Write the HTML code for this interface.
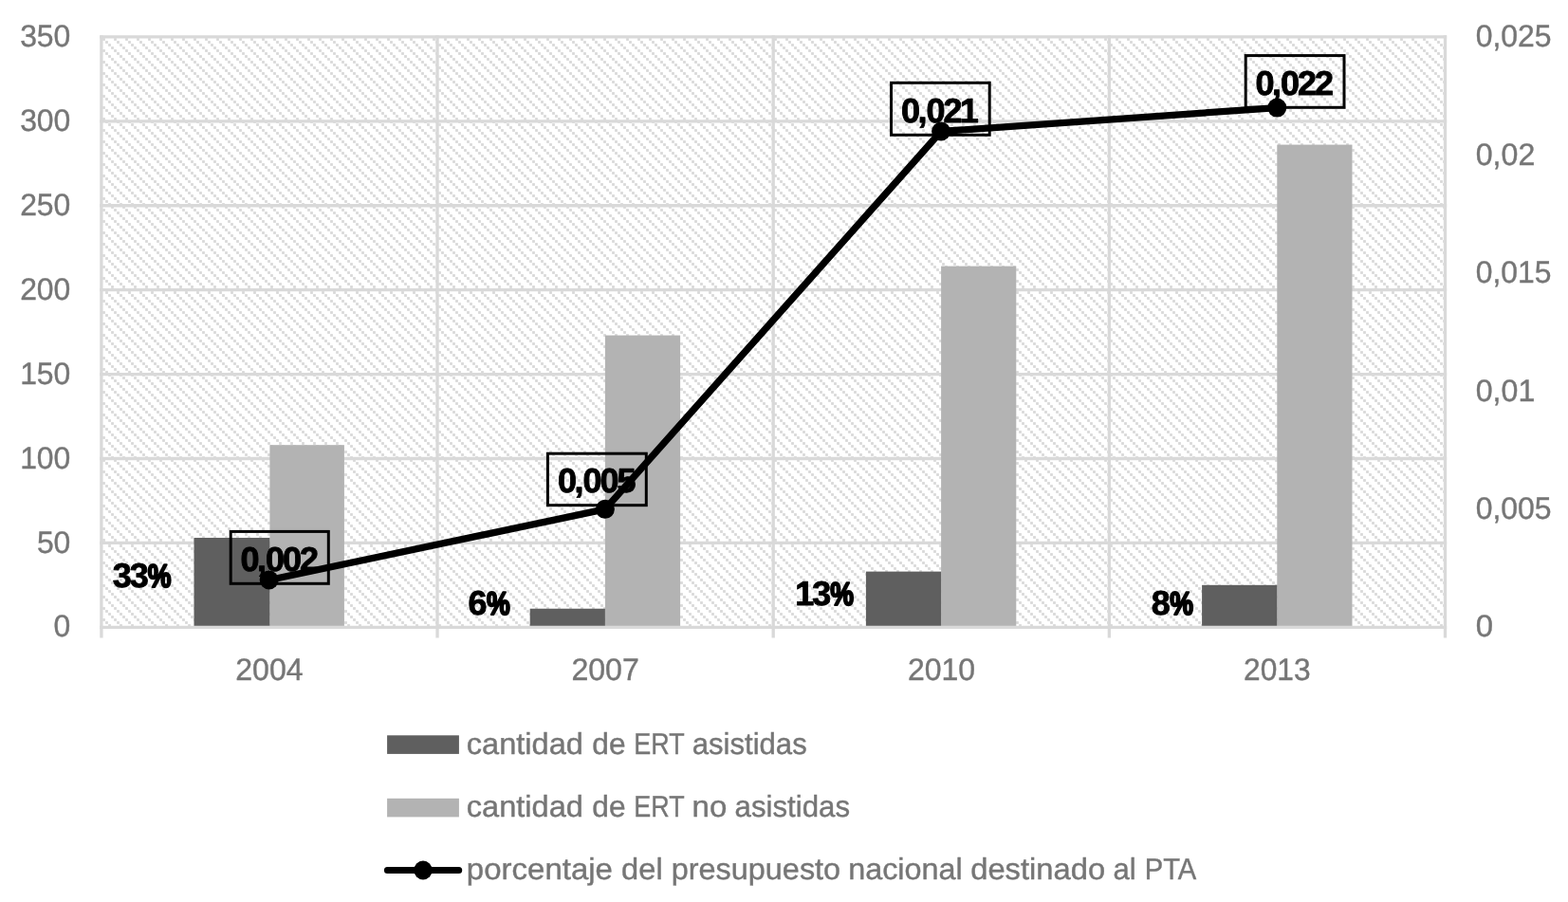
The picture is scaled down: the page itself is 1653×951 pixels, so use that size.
<!DOCTYPE html>
<html lang="es"><head><meta charset="utf-8"><title>ERT asistidas y presupuesto PTA</title>
<style>html,body{margin:0;padding:0;background:#fff;overflow:hidden}svg{display:block}text{white-space:pre}</style></head>
<body>
<svg width="1653" height="951" viewBox="0 0 1653 951" font-family="'Liberation Sans', sans-serif" text-rendering="geometricPrecision">
<defs><pattern id="h" x="108" y="40" width="12" height="12" patternUnits="userSpaceOnUse" shape-rendering="crispEdges"><rect x="0" y="0" width="3" height="3" fill="#e1e1e1"/><rect x="1" y="0" width="1" height="3" fill="#dcdcdc"/><rect x="0" y="1" width="3" height="1" fill="#dcdcdc"/><rect x="1" y="1" width="1" height="1" fill="#d8d8d8"/><rect x="3" y="3" width="3" height="3" fill="#e1e1e1"/><rect x="4" y="3" width="1" height="3" fill="#dcdcdc"/><rect x="3" y="4" width="3" height="1" fill="#dcdcdc"/><rect x="4" y="4" width="1" height="1" fill="#d8d8d8"/><rect x="6" y="6" width="3" height="3" fill="#e1e1e1"/><rect x="7" y="6" width="1" height="3" fill="#dcdcdc"/><rect x="6" y="7" width="3" height="1" fill="#dcdcdc"/><rect x="7" y="7" width="1" height="1" fill="#d8d8d8"/><rect x="9" y="9" width="3" height="3" fill="#e1e1e1"/><rect x="10" y="9" width="1" height="3" fill="#dcdcdc"/><rect x="9" y="10" width="3" height="1" fill="#dcdcdc"/><rect x="10" y="10" width="1" height="1" fill="#d8d8d8"/></pattern></defs>
<rect width="1653" height="951" fill="#fff"/>
<rect x="107" y="39" width="1416" height="622" fill="url(#h)"/>
<g stroke="#d9d9d9" stroke-width="3.33" fill="none"><line x1="105.23" y1="38.90" x2="1525.16" y2="38.90"/><line x1="105.23" y1="127.82" x2="1525.16" y2="127.82"/><line x1="105.23" y1="216.74" x2="1525.16" y2="216.74"/><line x1="105.23" y1="305.66" x2="1525.16" y2="305.66"/><line x1="105.23" y1="394.59" x2="1525.16" y2="394.59"/><line x1="105.23" y1="483.51" x2="1525.16" y2="483.51"/><line x1="105.23" y1="572.43" x2="1525.16" y2="572.43"/><line x1="106.90" y1="37.23" x2="106.90" y2="661.35"/><line x1="461.05" y1="37.23" x2="461.05" y2="661.35"/><line x1="815.20" y1="37.23" x2="815.20" y2="661.35"/><line x1="1169.35" y1="37.23" x2="1169.35" y2="661.35"/><line x1="1523.50" y1="37.23" x2="1523.50" y2="661.35"/></g>
<rect x="284.40" y="469.18" width="78.50" height="192.12" fill="#b3b3b3"/>
<rect x="204.50" y="567.02" width="79.90" height="94.28" fill="#5f5f5f"/>
<rect x="637.90" y="353.56" width="79.20" height="307.74" fill="#b3b3b3"/>
<rect x="558.70" y="641.73" width="79.20" height="19.57" fill="#5f5f5f"/>
<rect x="992.10" y="280.62" width="79.20" height="380.68" fill="#b3b3b3"/>
<rect x="912.90" y="602.60" width="79.20" height="58.70" fill="#5f5f5f"/>
<rect x="1346.30" y="152.55" width="79.20" height="508.75" fill="#b3b3b3"/>
<rect x="1267.10" y="616.83" width="79.20" height="44.47" fill="#5f5f5f"/>
<g stroke="#d9d9d9" stroke-width="3.33" fill="none"><line x1="105.23" y1="661.35" x2="1525.16" y2="661.35"/><line x1="106.90" y1="661.35" x2="106.90" y2="672.50"/><line x1="461.05" y1="661.35" x2="461.05" y2="672.50"/><line x1="815.20" y1="661.35" x2="815.20" y2="672.50"/><line x1="1169.35" y1="661.35" x2="1169.35" y2="672.50"/><line x1="1523.50" y1="661.35" x2="1523.50" y2="672.50"/></g>
<polyline points="283.70,611.55 637.90,536.86 992.10,138.49 1346.30,113.59" fill="none" stroke="#000" stroke-width="7.3" stroke-linejoin="round" stroke-linecap="round"/>
<circle cx="283.70" cy="611.55" r="10.0" fill="#000"/>
<circle cx="637.90" cy="536.86" r="10.0" fill="#000"/>
<circle cx="992.10" cy="138.49" r="10.0" fill="#000"/>
<circle cx="1346.30" cy="113.59" r="10.0" fill="#000"/>
<rect x="243.20" y="560.40" width="103.10" height="54.90" fill="none" stroke="#000" stroke-width="3"/>
<rect x="577.40" y="478.20" width="103.90" height="54.50" fill="none" stroke="#000" stroke-width="3"/>
<rect x="939.50" y="87.30" width="103.70" height="55.00" fill="none" stroke="#000" stroke-width="3"/>
<rect x="1313.20" y="58.60" width="103.80" height="54.70" fill="none" stroke="#000" stroke-width="3"/>
<rect x="408.1" y="775.3" width="75.8" height="19.6" fill="#5f5f5f"/>
<rect x="408.1" y="841.8" width="75.8" height="19.6" fill="#b3b3b3"/>
<line x1="408.4" y1="917.4" x2="483.7" y2="917.4" stroke="#000" stroke-width="7" stroke-linecap="round"/>
<ellipse cx="446" cy="917.5" rx="9.7" ry="10.0" fill="#000"/>
<g fill="#767676" stroke="#767676" stroke-width="0.4">
<text x="21.15" y="49.15" font-size="32.70" textLength="53.19" lengthAdjust="spacingAndGlyphs">350</text>
<text x="21.15" y="138.09" font-size="32.70" textLength="53.19" lengthAdjust="spacingAndGlyphs">300</text>
<text x="21.15" y="227.04" font-size="32.70" textLength="53.19" lengthAdjust="spacingAndGlyphs">250</text>
<text x="21.15" y="315.98" font-size="32.70" textLength="53.19" lengthAdjust="spacingAndGlyphs">200</text>
<text x="21.15" y="404.92" font-size="32.70" textLength="53.19" lengthAdjust="spacingAndGlyphs">150</text>
<text x="21.15" y="493.86" font-size="32.70" textLength="53.19" lengthAdjust="spacingAndGlyphs">100</text>
<text x="38.88" y="582.81" font-size="32.70" textLength="35.46" lengthAdjust="spacingAndGlyphs">50</text>
<text x="56.61" y="671.00" font-size="32.70" textLength="17.73" lengthAdjust="spacingAndGlyphs">0</text>
<text x="1555.75" y="49.15" font-size="32.70" textLength="79.89" lengthAdjust="spacingAndGlyphs">0,025</text>
<text x="1555.74" y="173.67" font-size="32.70" textLength="62.57" lengthAdjust="spacingAndGlyphs">0,02</text>
<text x="1555.76" y="298.19" font-size="32.70" textLength="79.68" lengthAdjust="spacingAndGlyphs">0,015</text>
<text x="1555.75" y="422.71" font-size="32.70" textLength="62.52" lengthAdjust="spacingAndGlyphs">0,01</text>
<text x="1555.75" y="547.23" font-size="32.70" textLength="79.89" lengthAdjust="spacingAndGlyphs">0,005</text>
<text x="1555.72" y="671.00" font-size="32.70" textLength="18.27" lengthAdjust="spacingAndGlyphs">0</text>
<text x="248.18" y="717.20" font-size="32.70" textLength="71.46" lengthAdjust="spacingAndGlyphs">2004</text>
<text x="602.39" y="717.20" font-size="32.70" textLength="71.43" lengthAdjust="spacingAndGlyphs">2007</text>
<text x="957.09" y="717.20" font-size="32.70" textLength="71.05" lengthAdjust="spacingAndGlyphs">2010</text>
<text x="1311.11" y="717.20" font-size="32.70" textLength="70.49" lengthAdjust="spacingAndGlyphs">2013</text>
<text x="491.72" y="795.10" font-size="31.80" textLength="123.18" lengthAdjust="spacingAndGlyphs">cantidad</text>
<text x="624.27" y="795.10" font-size="31.80" textLength="35.24" lengthAdjust="spacingAndGlyphs">de</text>
<text x="668.29" y="795.10" font-size="31.80" textLength="53.38" lengthAdjust="spacingAndGlyphs">ERT</text>
<text x="729.68" y="795.10" font-size="31.80" textLength="121.05" lengthAdjust="spacingAndGlyphs">asistidas</text>
<text x="491.72" y="861.00" font-size="31.80" textLength="123.18" lengthAdjust="spacingAndGlyphs">cantidad</text>
<text x="624.27" y="861.00" font-size="31.80" textLength="35.24" lengthAdjust="spacingAndGlyphs">de</text>
<text x="668.29" y="861.00" font-size="31.80" textLength="53.38" lengthAdjust="spacingAndGlyphs">ERT</text>
<text x="729.50" y="861.00" font-size="31.80" textLength="36.78" lengthAdjust="spacingAndGlyphs">no</text>
<text x="774.57" y="861.00" font-size="31.80" textLength="121.56" lengthAdjust="spacingAndGlyphs">asistidas</text>
<text x="491.87" y="927.30" font-size="31.80" textLength="154.09" lengthAdjust="spacingAndGlyphs">porcentaje</text>
<text x="655.13" y="927.30" font-size="31.80" textLength="43.55" lengthAdjust="spacingAndGlyphs">del</text>
<text x="707.71" y="927.30" font-size="31.80" textLength="178.45" lengthAdjust="spacingAndGlyphs">presupuesto</text>
<text x="894.15" y="927.30" font-size="31.80" textLength="120.62" lengthAdjust="spacingAndGlyphs">nacional</text>
<text x="1023.23" y="927.30" font-size="31.80" textLength="141.95" lengthAdjust="spacingAndGlyphs">destinado</text>
<text x="1173.38" y="927.30" font-size="31.80" textLength="24.20" lengthAdjust="spacingAndGlyphs">al</text>
<text x="1206.71" y="927.30" font-size="31.80" textLength="54.55" lengthAdjust="spacingAndGlyphs">PTA</text>
</g>
<g fill="#000" stroke="#000" stroke-width="0.90" stroke-linejoin="round" font-weight="700" font-size="36.00">
<text y="601.65" x="253.62 270.98 280.12 298.02 316.09">0,002</text>
<text y="518.85" x="588.12 605.48 614.62 632.52 650.44">0,005</text>
<text y="128.55" x="950.02 967.38 976.52 994.49 1011.76">0,021</text>
<text y="99.55" x="1323.62 1340.98 1350.12 1368.09 1386.09">0,022</text>
<text y="618.95" x="118.73 136.73" aria-label="33%">33<tspan x="155.73" textLength="24.78" lengthAdjust="spacingAndGlyphs" stroke-width="2.2" font-size="34.40">%</tspan></text>
<text y="647.75" x="493.58" aria-label="6%">6<tspan x="512.93" textLength="24.78" lengthAdjust="spacingAndGlyphs" stroke-width="2.2" font-size="34.40">%</tspan></text>
<text y="637.95" x="838.26 856.23" aria-label="13%">13<tspan x="875.33" textLength="24.78" lengthAdjust="spacingAndGlyphs" stroke-width="2.2" font-size="34.40">%</tspan></text>
<text y="648.15" x="1213.67" aria-label="8%">8<tspan x="1233.13" textLength="24.78" lengthAdjust="spacingAndGlyphs" stroke-width="2.2" font-size="34.40">%</tspan></text>
</g>
</svg>
</body></html>
